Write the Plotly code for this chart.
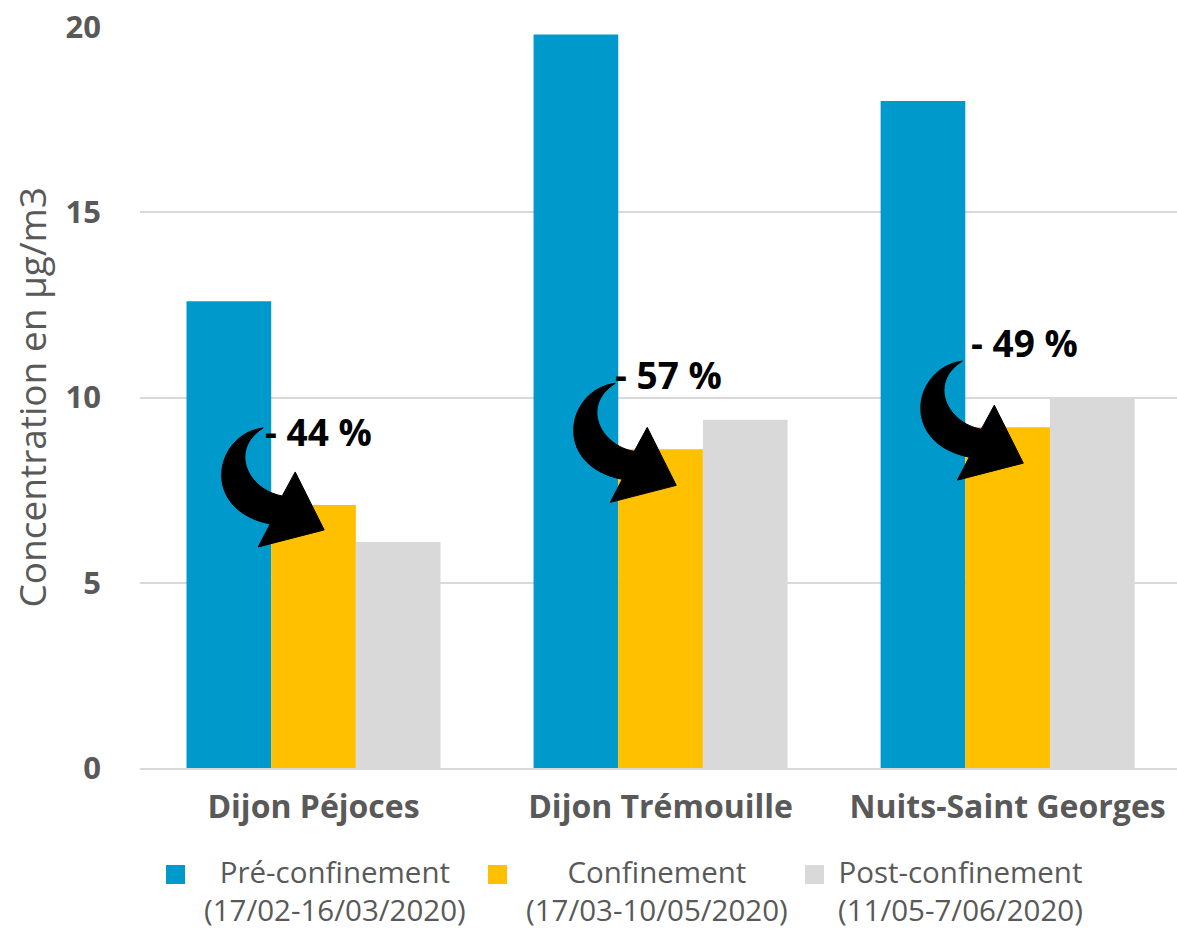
import plotly.graph_objects as go

categories = ["Dijon Péjoces", "Dijon Trémouille", "Nuits-Saint Georges"]
series_names = ["Pré-confinement", "Confinement", "Post-confinement"]
series_periods = ["(17/02-16/03/2020)", "(17/03-10/05/2020)", "(11/05-7/06/2020)"]
pre_values = [12.6, 19.8, 18.0]
conf_values = [7.1, 8.6, 9.2]
post_values = [6.1, 9.4, 10.0]
drop_labels = ["- 44 %", "- 57 %", "- 49 %"]
y_ticks = [0, 5, 10, 15, 20]

colors = ["#0099CC", "#FFC000", "#D9D9D9"]
TEXT_GREY = "#595959"
BAR_GAP = 0.268

W, H = 1177, 931
L, R, T, B = 140, 0, 27, 163
PW, PH = W - L - R, H - T - B

def px_x(p):
    return (p - L) / PW

def px_y(p):
    return (H - B - p) / PH

fig = go.Figure()
xs = list(range(len(categories)))
for vals, name, col in zip([pre_values, conf_values, post_values], series_names, colors):
    fig.add_trace(go.Bar(x=xs, y=vals, name=name, marker=dict(color=col, line=dict(width=0)),
                         showlegend=False, hoverinfo="skip"))

# curved arrows (pixel path relative to top-left corner of the "Confinement" bar)
arrow_pts = [
    ("M", [(-3, 66)]),
    ("C", [(-52, 60), (-67, -16), (4, -30)]),
    ("L", [(-8, -53)]),
    ("L", [(58, -36)]),
    ("L", [(29, 22)]),
    ("L", [(16, -2)]),
    ("C", [(-18, 4), (-38, 44), (-3, 66)]),
]
arrow_shift = [(-5, 11), (0, 0), (0, 0)]
label_shift = [(-8, 73), (-5, 75), (4, 85)]

def arrow_path(dx, dy):
    parts = []
    for cmd, pts in arrow_pts:
        parts.append(cmd + " ".join(f"{x + dx},{y + dy}" for x, y in pts))
    return " ".join(parts) + " Z"

bar_w = (1 - BAR_GAP) / 3
for i, v in enumerate(conf_values):
    left_edge = xs[i] - bar_w / 2
    dx, dy = arrow_shift[i]
    fig.add_shape(type="path", xref="x", yref="y", xsizemode="pixel", ysizemode="pixel",
                  xanchor=left_edge, yanchor=v, path=arrow_path(dx, dy),
                  fillcolor="black", line=dict(color="black", width=1))
    sx, sy = label_shift[i]
    fig.add_annotation(x=left_edge, y=v, xref="x", yref="y", text=f"<b>{drop_labels[i]}</b>",
                       showarrow=False, xanchor="left", yanchor="middle", xshift=sx, yshift=sy,
                       font=dict(family="Open Sans", size=37, color="black"))

# legend drawn manually (centred two-line labels)
sq_x = [166, 488, 805]
txt_cx = [335, 657, 960]
for i in range(3):
    fig.add_shape(type="rect", xref="paper", yref="paper",
                  x0=px_x(sq_x[i]), x1=px_x(sq_x[i] + 19), y0=px_y(884), y1=px_y(865),
                  fillcolor=colors[i], line=dict(width=0))
    fig.add_annotation(xref="paper", yref="paper", x=px_x(txt_cx[i]), y=px_y(891),
                       text=f"{series_names[i]}<br>{series_periods[i]}", showarrow=False,
                       xanchor="center", yanchor="middle", align="center",
                       font=dict(family="Open Sans", size=29.5, color=TEXT_GREY))

fig.update_layout(
    width=W, height=H, barmode="group", bargap=BAR_GAP, bargroupgap=0,
    margin=dict(l=L, r=R, t=T, b=B, pad=0),
    plot_bgcolor="white", paper_bgcolor="white",
    showlegend=False,
    xaxis=dict(tickmode="array", tickvals=xs, ticktext=[f"<b>{c}</b>" for c in categories],
               range=[-0.5, 2.488], showgrid=False, zeroline=False,
               showline=True, linecolor="#D9D9D9", linewidth=1.5, ticks="",
               ticklabelstandoff=10,
               tickfont=dict(family="Open Sans", size=32, color=TEXT_GREY)),
    yaxis=dict(range=[0, 20], tickvals=y_ticks, ticktext=[f"<b>{t}</b>" for t in y_ticks],
               showgrid=True, gridcolor="#D9D9D9", gridwidth=1.5, zeroline=False,
               showline=False, ticks="", ticklabelstandoff=38,
               tickfont=dict(family="Open Sans", size=31, color=TEXT_GREY)),
)
fig.add_annotation(xref="paper", yref="paper", x=px_x(31), y=0.5, text="Concentration en µg/m3",
                   textangle=-90, showarrow=False, xanchor="center", yanchor="middle",
                   font=dict(family="Open Sans", size=37, color=TEXT_GREY))

fig.write_html("out.html", config={"displayModeBar": False},
               post_script="document.body.style.margin='0';document.body.style.overflow='hidden';")
